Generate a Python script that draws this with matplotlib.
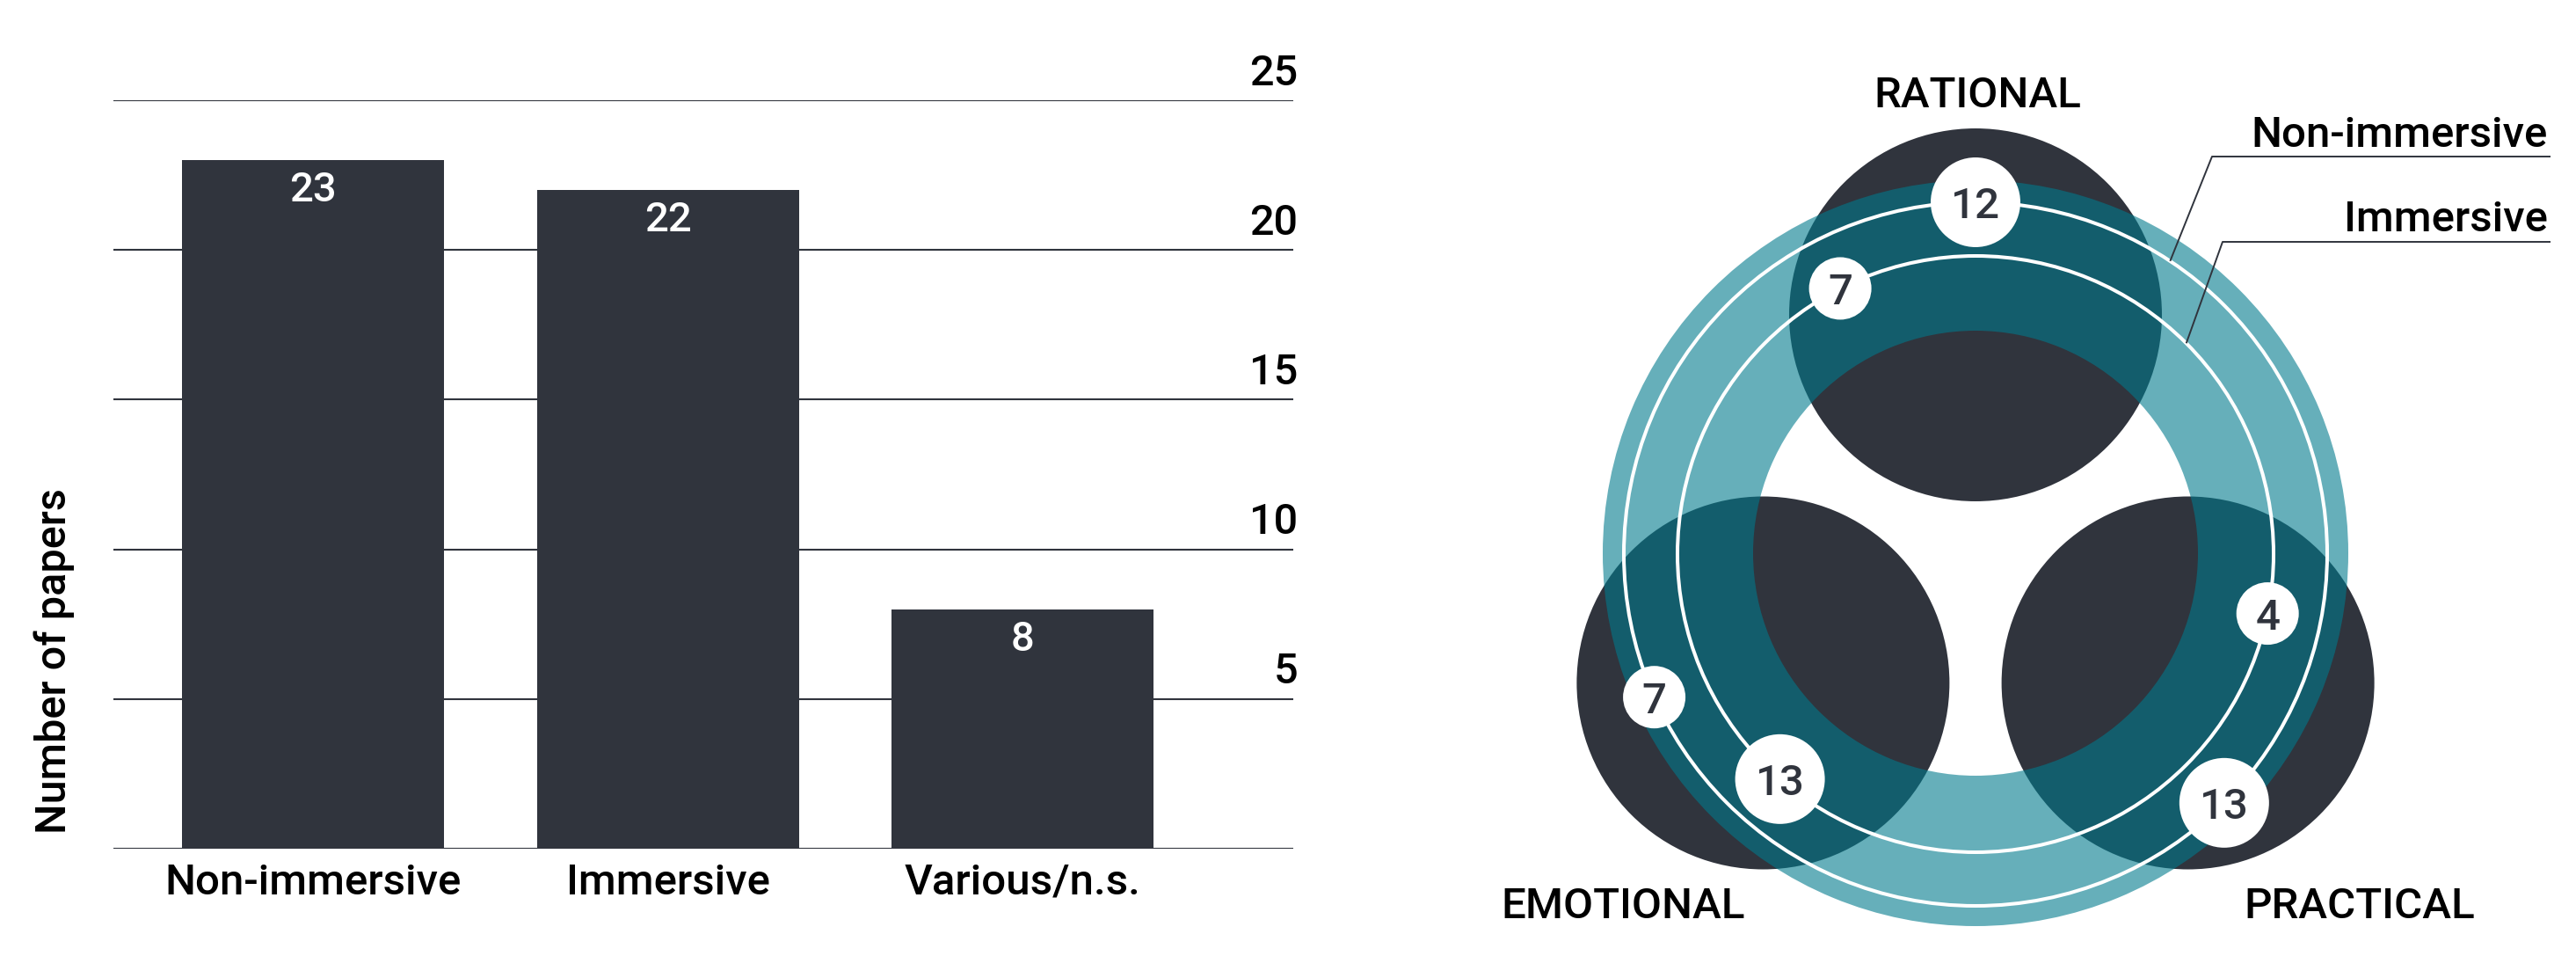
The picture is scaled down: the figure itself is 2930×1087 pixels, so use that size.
import numpy as np
import matplotlib
matplotlib.use("Agg")
from matplotlib import pyplot as plt
from matplotlib.patches import Circle, Wedge

plt.rcParams['font.family'] = ['Roboto', 'DejaVu Sans']
plt.rcParams['font.weight'] = 'medium'

# =============================================================================
# data
# =============================================================================
categories = ['Non-immersive', 'Immersive', 'Various/n.s.']
paper_counts = [23, 22, 8]
y_ticks = [5, 10, 15, 20, 25]

modes = ['RATIONAL', 'EMOTIONAL', 'PRACTICAL']
non_immersive_counts = [12, 7, 13]   # outer ring
immersive_counts = [7, 13, 4]        # inner ring

# =============================================================================
# style / layout
# =============================================================================
DARK = '#30343d'
TEAL = '#007a8c'
W, H = 2930, 1087          # figure size in px (dpi 100)
FS = 35.5

fig = plt.figure(figsize=(W / 100, H / 100), dpi=100)

# -----------------------------------------------------------------------------
# left: bar chart
# -----------------------------------------------------------------------------
ax = fig.add_axes([129 / W, 1 - 965 / H, (1471 - 129) / W, (965 - 114) / H])
x = np.arange(len(categories))
ax.bar(x, paper_counts, width=0.7385, color=DARK, zorder=3)
ax.set_xlim(-0.5626, 2.763)
ax.set_ylim(0, 25)
ax.set_yticks([0] + y_ticks)
ax.set_axisbelow(True)
ax.yaxis.grid(True, color=DARK, lw=1.5)
ax.tick_params(left=False, labelleft=False, bottom=False, labelbottom=False)
for s in ax.spines.values():
    s.set_visible(False)

for v in y_ticks:
    ax.annotate(str(v), xy=(1, v), xycoords=('axes fraction', 'data'),
                xytext=(3.6, 12.5), textcoords='offset points',
                ha='right', va='baseline', fontsize=35, color='black')

for i, (c, v) in enumerate(zip(categories, paper_counts)):
    ax.annotate(str(v), xy=(i, v), xytext=(0, -34), textcoords='offset points',
                ha='center', va='baseline', fontsize=34, color='white')
    ax.annotate(c, xy=(i, 0), xytext=(0, -37.4), textcoords='offset points',
                ha='center', va='baseline', fontsize=FS, color='black',
                annotation_clip=False)

fig.text(75 / W, 1 - 751 / H, 'Number of papers', rotation=90,
         rotation_mode='anchor', ha='center', va='baseline',
         fontsize=35, color='black')

# -----------------------------------------------------------------------------
# right: ring diagram (units = px, origin at ring centre)
# -----------------------------------------------------------------------------
ax2 = fig.add_axes([1650 / W, 0, 1280 / W, 1])
ax2.set_xlim(-597, 683)
ax2.set_ylim(-457, 630)
ax2.axis('off')

tri_c = (0, -7)
tri_r = 279
mode_angles = [90, 210, 330]
for a in mode_angles:
    t = np.radians(a)
    ax2.add_patch(Circle((tri_c[0] + tri_r * np.cos(t), tri_c[1] + tri_r * np.sin(t)),
                         212, color=DARK, lw=0, zorder=1))

ax2.add_patch(Wedge((0, 1), 424, 0, 360, width=171, facecolor=TEAL,
                    alpha=0.6, lw=0, zorder=2))

r_outer, r_inner = 400, 339
for r in (r_outer, r_inner):
    ax2.add_patch(Circle((0, 0), r, fill=False, ec='white', lw=2.9, zorder=3))

outer_angles = [90, 204, 315]
inner_angles = [117, 229, 348.5]
for vals, angs, r in ((non_immersive_counts, outer_angles, r_outer),
                      (immersive_counts, inner_angles, r_inner)):
    for v, a in zip(vals, angs):
        t = np.radians(a)
        px, py = r * np.cos(t), r * np.sin(t)
        rad = 20 + 15.5 * len(str(v))
        ax2.add_patch(Circle((px, py), rad, color='white', lw=0, zorder=4))
        ax2.text(px, py - 18.3, str(v), ha='center', va='baseline',
                 fontsize=FS, color=DARK, zorder=5)

# mode labels
ax2.text(2, 508, modes[0], ha='center', va='baseline', fontsize=FS, color='black')
ax2.text(-401, -414, modes[1], ha='center', va='baseline', fontsize=FS, color='black')
ax2.text(437, -414, modes[2], ha='center', va='baseline', fontsize=FS, color='black')

# ring labels with leader lines
for name, ty, ly, lx, r, a in (('Non-immersive', 463, 452, 269, r_outer, 56.4),
                               ('Immersive', 367, 355, 281, r_inner, 45)):
    ax2.text(651, ty, name, ha='right', va='baseline', fontsize=FS, color='black')
    t = np.radians(a)
    ax2.plot([654, lx, r * np.cos(t)], [ly, ly, r * np.sin(t)],
             color=DARK, lw=1.4, zorder=6, solid_capstyle='butt')

fig.savefig('out.png', dpi=100, facecolor='white')
